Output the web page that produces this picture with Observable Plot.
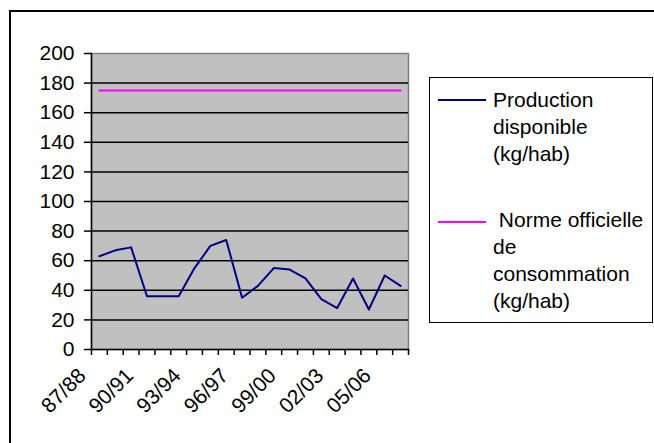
<!DOCTYPE html>
<html>
<head>
<meta charset="utf-8">
<script src="https://cdn.jsdelivr.net/npm/d3@7"></script>
<script src="https://cdn.jsdelivr.net/npm/@observablehq/plot@0.6"></script>
<style>
  html, body { margin: 0; padding: 0; background: #fff; overflow: hidden; }
  #wrap { position: relative; width: 654px; height: 443px; font-family: "Liberation Sans", Arial, sans-serif; }
  #outer { position: absolute; left: 9px; top: 10px; width: 700px; height: 500px; border: 2px solid #000; }
  #chart { position: absolute; left: 0; top: 0; }
  #legend { position: absolute; left: 429px; top: 77px; width: 222px; height: 244px; border: 1.5px solid #000; background: #fff; }
  .swatch { position: absolute; left: 8px; width: 48px; height: 2px; }
  .label { position: absolute; font-size: 21px; line-height: 27px; color: #000; white-space: pre; }
</style>
</head>
<body>
<div id="wrap">
  <div id="outer"></div>
  <div id="chart"></div>
  <div id="legend"></div>
</div>
<script>
const categories = ["87/88","88/89","89/90","90/91","91/92","92/93","93/94","94/95","95/96","96/97",
                    "97/98","98/99","99/00","00/01","01/02","02/03","03/04","04/05","05/06","06/07"];
const production = [63, 67, 69, 36, 36, 36, 55, 70, 74, 35, 43, 55, 54, 48, 34, 28, 48, 27, 50, 43];
const norme = [175, 175, 175, 175, 175, 175, 175, 175, 175, 175, 175, 175, 175, 175, 175, 175, 175, 175, 175, 175];
const yTicks = [0, 20, 40, 60, 80, 100, 120, 140, 160, 180, 200];
const labelIndex = [0, 3, 6, 9, 12, 15, 18];
const seriesNames = ["Production\ndisponible\n(kg/hab)", " Norme officielle\nde\nconsommation\n(kg/hab)"];
const seriesColors = ["#000080", "#ff00ff"];

const prodData = production.map((v, i) => ({i, v}));
const normData = norme.map((v, i) => ({i, v}));

const chart = Plot.plot({
  width: 654,
  height: 443,
  marginLeft: 91,
  marginRight: 246,
  marginTop: 53,
  marginBottom: 94,
  style: { fontFamily: '"Liberation Sans", Arial, sans-serif', fontSize: "21px", color: "#000", background: "transparent" },
  x: { domain: [0, categories.length], axis: null },
  y: { domain: [0, 200], axis: null },
  marks: [
    Plot.frame({ fill: "#c0c0c0", stroke: "#808080", strokeWidth: 1.5 }),
    Plot.ruleY(yTicks.filter(t => t > 0 && t < 200), { stroke: "#000", strokeWidth: 1.5 }),
    Plot.frame({ anchor: "left", stroke: "#000", strokeWidth: 1.5 }),
    Plot.frame({ anchor: "bottom", stroke: "#000", strokeWidth: 1.5 }),
    Plot.axisY({ ticks: yTicks, tickSize: 7, tickPadding: 10, fontSize: 21, strokeWidth: 1.5, label: null }),
    Plot.axisX({ ticks: d3.range(categories.length + 1), tickSize: 6, tickFormat: () => "", strokeWidth: 1.5, label: null }),
    Plot.text(labelIndex, {
      x: i => i + 0.5, text: i => categories[i], frameAnchor: "bottom",
      rotate: -45, textAnchor: "end", lineAnchor: "top", dx: -23, dy: 17, fontSize: 21
    }),
    Plot.line(normData, { x: d => d.i + 0.5, y: "v", stroke: seriesColors[1], strokeWidth: 2 }),
    Plot.line(prodData, { x: d => d.i + 0.5, y: "v", stroke: seriesColors[0], strokeWidth: 2 })
  ]
});
document.getElementById("chart").appendChild(chart);

// legend
const legend = document.getElementById("legend");
const itemTops = [8, 128];
const swatchTops = [21, 143];
seriesNames.forEach((name, k) => {
  const sw = document.createElement("div");
  sw.className = "swatch";
  sw.style.top = swatchTops[k] + "px";
  sw.style.background = seriesColors[k];
  legend.appendChild(sw);
  const lb = document.createElement("div");
  lb.className = "label";
  lb.style.left = "63px";
  lb.style.top = itemTops[k] + "px";
  lb.textContent = name;
  legend.appendChild(lb);
});
</script>
</body>
</html>
